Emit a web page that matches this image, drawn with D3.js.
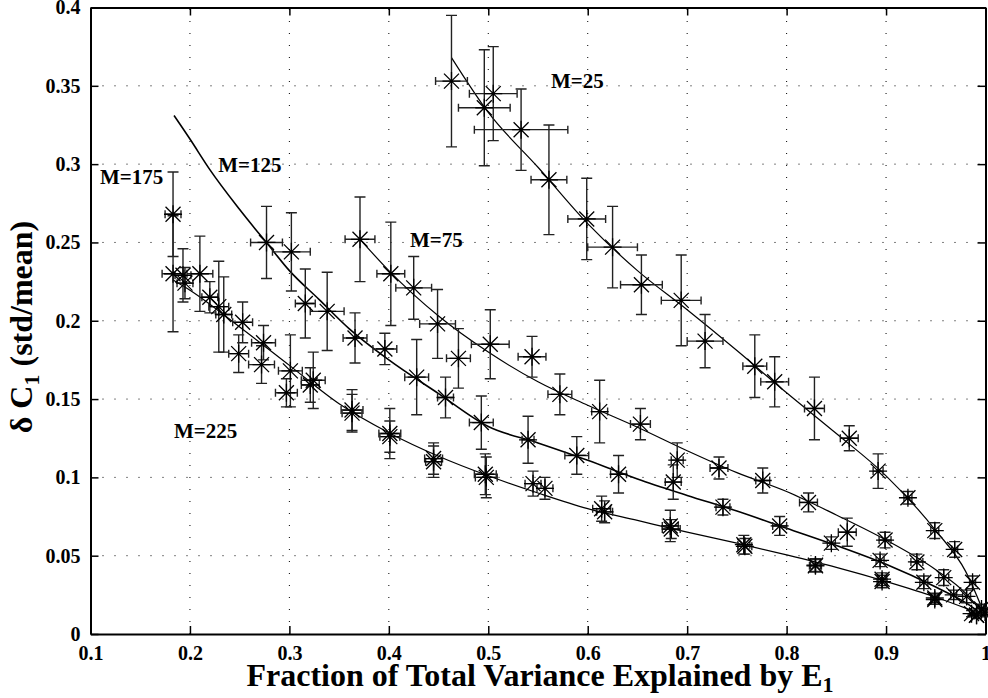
<!DOCTYPE html>
<html>
<head>
<meta charset="utf-8">
<script src="https://cdn.jsdelivr.net/npm/d3@7"></script>
<style>
  body { margin: 0; background: #fff; }
  text { font-family: "Liberation Serif", "Times New Roman", serif; font-weight: bold; }
</style>
</head>
<body>
<div id="chart"></div>
<script>
// axis ticks
const xTicks = [0.1, 0.2, 0.3, 0.4, 0.5, 0.6, 0.7, 0.8, 0.9, 1];
const yTicks = [0, 0.05, 0.1, 0.15, 0.2, 0.25, 0.3, 0.35, 0.4];

// M=25
const m25X  = [0.463,0.496,0.505,0.533,0.561,0.599,0.625,0.654,0.694,0.718,0.768,0.788,0.828,0.863,0.892,0.922,0.949,0.969,0.987,0.996];
const m25Y  = [0.353,0.336,0.345,0.322,0.290,0.265,0.247,0.223,0.213,0.187,0.171,0.161,0.144,0.125,0.104,0.087,0.066,0.054,0.033,0.016];
const m25Ex = [0.016,0.026,0.024,0.047,0.018,0.019,0.025,0.021,0.020,0.018,0.012,0.014,0.010,0.009,0.005,0.004,0.004,0.003,0.003,0.002];
const m25Ey = [0.042,0.037,0.030,0.026,0.035,0.026,0.026,0.019,0.029,0.017,0.020,0.016,0.020,0.008,0.011,0.004,0.005,0.005,0.004,0.003];

// M=75
const m75X  = [0.371,0.402,0.425,0.449,0.470,0.502,0.544,0.572,0.612,0.653,0.690,0.732,0.776,0.822,0.861,0.899,0.931,0.958,0.981,0.9995];
const m75Y  = [0.252,0.230,0.221,0.198,0.176,0.185,0.177,0.153,0.142,0.134,0.111,0.106,0.098,0.084,0.065,0.060,0.046,0.036,0.024,0.014];
const m75Ex = [0.015,0.014,0.018,0.018,0.012,0.019,0.014,0.012,0.008,0.010,0.006,0.009,0.007,0.009,0.009,0.006,0.006,0.005,0.004,0.002];
const m75Ey = [0.027,0.033,0.020,0.022,0.019,0.022,0.013,0.013,0.020,0.010,0.011,0.007,0.008,0.006,0.009,0.005,0.005,0.005,0.004,0.003];

// M=125
const m125X  = [0.277,0.302,0.316,0.338,0.366,0.396,0.428,0.457,0.493,0.540,0.589,0.631,0.686,0.736,0.793,0.845,0.894,0.938,0.968,0.991];
const m125Y  = [0.250,0.244,0.211,0.206,0.189,0.182,0.164,0.151,0.135,0.124,0.114,0.102,0.097,0.081,0.069,0.058,0.047,0.033,0.025,0.012];
const m125Ex = [0.016,0.019,0.010,0.017,0.012,0.012,0.012,0.008,0.012,0.006,0.012,0.008,0.008,0.007,0.007,0.004,0.004,0.004,0.003,0.002];
const m125Ey = [0.023,0.025,0.022,0.025,0.016,0.010,0.024,0.013,0.017,0.015,0.012,0.012,0.011,0.005,0.006,0.004,0.004,0.004,0.003,0.002];

// M=175
const m175X  = [0.183,0.193,0.210,0.229,0.253,0.274,0.301,0.324,0.363,0.401,0.445,0.497,0.545,0.614,0.683,0.757,0.829,0.896,0.949,0.986];
const m175Y  = [0.268,0.229,0.230,0.209,0.199,0.186,0.168,0.162,0.143,0.128,0.112,0.102,0.096,0.080,0.069,0.057,0.044,0.035,0.023,0.013];
const m175Ex = [0.008,0.008,0.013,0.010,0.010,0.012,0.012,0.012,0.011,0.011,0.009,0.011,0.008,0.009,0.008,0.006,0.005,0.004,0.004,0.002];
const m175Ey = [0.027,0.017,0.024,0.029,0.013,0.011,0.023,0.018,0.013,0.016,0.010,0.013,0.008,0.008,0.010,0.006,0.004,0.004,0.003,0.002];

// M=225
const m225X  = [0.183,0.195,0.220,0.234,0.249,0.272,0.297,0.321,0.363,0.401,0.445,0.498,0.557,0.617,0.684,0.758,0.829,0.896,0.949,0.991];
const m225Y  = [0.230,0.224,0.215,0.204,0.179,0.172,0.154,0.159,0.141,0.126,0.110,0.100,0.093,0.078,0.067,0.056,0.0435,0.0335,0.022,0.012];
const m225Ex = [0.011,0.008,0.008,0.008,0.010,0.013,0.011,0.009,0.010,0.010,0.008,0.011,0.008,0.008,0.009,0.007,0.006,0.005,0.004,0.002];
const m225Ey = [0.037,0.010,0.010,0.024,0.012,0.012,0.009,0.011,0.012,0.010,0.010,0.013,0.007,0.007,0.006,0.005,0.004,0.004,0.003,0.002];

// fitted curves
const fit25X  = [0.463,0.50,0.55,0.60,0.65,0.70,0.75,0.80,0.85,0.90,0.95,0.98,1.0];
const fit25Y  = [0.368,0.333,0.298,0.262,0.232,0.207,0.181,0.154,0.128,0.101,0.066,0.040,0.011];
const fit75X  = [0.371,0.40,0.45,0.50,0.55,0.60,0.65,0.70,0.75,0.80,0.85,0.90,0.95,0.98,1.0];
const fit75Y  = [0.252,0.232,0.203,0.180,0.161,0.146,0.132,0.117,0.103,0.091,0.076,0.060,0.041,0.026,0.011];
const fit125X = [0.184,0.20,0.22,0.25,0.28,0.30,0.33,0.36,0.40,0.45,0.50,0.55,0.60,0.65,0.70,0.75,0.80,0.85,0.90,0.95,0.98,1.0];
const fit125Y = [0.331,0.316,0.2965,0.271,0.2475,0.232,0.2135,0.195,0.175,0.1535,0.1325,0.122,0.111,0.099,0.0885,0.0785,0.0675,0.0565,0.0445,0.030,0.020,0.011];
const fit225X = [0.183,0.20,0.25,0.30,0.35,0.40,0.45,0.50,0.55,0.60,0.65,0.70,0.75,0.80,0.85,0.90,0.95,0.98,1.0];
const fit225Y = [0.226,0.2195,0.196,0.1715,0.147,0.1285,0.1135,0.101,0.090,0.080,0.0725,0.065,0.058,0.0505,0.0425,0.0335,0.0235,0.0165,0.0115];

// curve labels
const labelText = ["M=25", "M=75", "M=125", "M=175", "M=225"];
const labelX = [0.563, 0.4213, 0.2285, 0.1096, 0.184];
const labelY = [0.3483, 0.2474, 0.2947, 0.2874, 0.1252];

const width = 988, height = 698;

const svg = d3.select("#chart").append("svg")
	.attr("width", width)
	.attr("height", height);

const x = d3.scaleLinear().domain([0.1, 1]).range([90.5, 985.5]);
const y = d3.scaleLinear().domain([0, 0.4]).range([634, 7.5]);

// dotted grid
svg.append("g").selectAll("line")
	.data(xTicks.slice(1, -1))
	.enter().append("line")
	.attr("x1", d => x(d)).attr("x2", d => x(d))
	.attr("y1", y(0)).attr("y2", y(0.4))
	.attr("stroke", "#000").attr("stroke-width", 1)
	.attr("stroke-dasharray", "1,11");
svg.append("g").selectAll("line")
	.data(yTicks.slice(1, -1))
	.enter().append("line")
	.attr("y1", d => y(d)).attr("y2", d => y(d))
	.attr("x1", x(0.1)).attr("x2", x(1))
	.attr("stroke", "#000").attr("stroke-width", 1)
	.attr("stroke-dasharray", "1,11");

const fmt = d => String(+d.toFixed(2));

// axes with inward ticks
const gx = svg.append("g").attr("transform", `translate(0,${y(0)})`)
	.call(d3.axisBottom(x).tickValues(xTicks).tickFormat(fmt).tickSizeInner(-8).tickSizeOuter(0).tickPadding(12));
const gxTop = svg.append("g").attr("transform", `translate(0,${y(0.4)})`)
	.call(d3.axisTop(x).tickValues(xTicks).tickFormat("").tickSizeInner(-8).tickSizeOuter(0));
const gy = svg.append("g").attr("transform", `translate(${x(0.1)},0)`)
	.call(d3.axisLeft(y).tickValues(yTicks).tickFormat(fmt).tickSizeInner(-8).tickSizeOuter(0).tickPadding(10));
const gyRight = svg.append("g").attr("transform", `translate(${x(1)},0)`)
	.call(d3.axisRight(y).tickValues(yTicks).tickFormat("").tickSizeInner(-8).tickSizeOuter(0));

[gx, gxTop, gy, gyRight].forEach(g => {
	g.select(".domain").attr("stroke", "#000").attr("stroke-width", 2);
	g.selectAll(".tick line").attr("stroke", "#000").attr("stroke-width", 1.5);
});
[gx, gy].forEach(g => {
	g.selectAll(".tick text")
		.attr("font-size", 20)
		.attr("fill", "#000");
});

// fitted lines
const line = d3.line().x(d => x(d[0])).y(d => y(d[1])).curve(d3.curveMonotoneX);
const fits = [
	{xs: fit25X, ys: fit25Y, w: 1.2},
	{xs: fit75X, ys: fit75Y, w: 1.2},
	{xs: fit125X, ys: fit125Y, w: 1.6},
	{xs: fit225X, ys: fit225Y, w: 1.2}
];
svg.append("g").selectAll("path")
	.data(fits)
	.enter().append("path")
	.attr("d", f => line(f.xs.map((v, i) => [v, f.ys[i]])))
	.attr("fill", "none")
	.attr("stroke", "#000")
	.attr("stroke-width", f => f.w);

// points with error bars
const series = [
	[m25X, m25Y, m25Ex, m25Ey],
	[m75X, m75Y, m75Ex, m75Ey],
	[m125X, m125Y, m125Ex, m125Ey],
	[m175X, m175Y, m175Ex, m175Ey],
	[m225X, m225Y, m225Ex, m225Ey]
];
const points = [];
series.forEach(([xs, ys, exs, eys]) => {
	xs.forEach((v, i) => points.push({x: v, y: ys[i], ex: exs[i], ey: eys[i]}));
});

const capY = 5.5, capX = 4;
const eb = svg.append("g").attr("stroke", "#222").attr("stroke-width", 1.4).attr("fill", "none");
eb.selectAll("path")
	.data(points)
	.enter().append("path")
	.attr("d", d => {
		const cx = x(d.x), cy = y(d.y);
		const y1 = y(d.y + d.ey), y2 = y(d.y - d.ey);
		const x1 = x(d.x - d.ex), x2 = x(d.x + d.ex);
		return `M${cx},${y1}V${y2}` +
			`M${cx - capY},${y1}H${cx + capY}M${cx - capY},${y2}H${cx + capY}` +
			`M${x1},${cy}H${x2}` +
			`M${x1},${cy - capX}V${cy + capX}M${x2},${cy - capX}V${cy + capX}`;
	});

const star = "M-9,0H9M0,-9V9M-7.5,-7.5L7.5,7.5M-7.5,7.5L7.5,-7.5";
svg.append("g").selectAll("path")
	.data(points)
	.enter().append("path")
	.attr("transform", d => `translate(${x(d.x)},${y(d.y)})`)
	.attr("d", star)
	.attr("stroke", "#000")
	.attr("stroke-width", 1.3)
	.attr("fill", "none");

// curve labels
svg.append("g").selectAll("text")
	.data(labelText)
	.enter().append("text")
	.attr("x", (d, i) => x(labelX[i]))
	.attr("y", (d, i) => y(labelY[i]))
	.attr("font-size", 21)
	.attr("fill", "#000")
	.text(d => d);

// axis titles
const xl = svg.append("text")
	.attr("x", 540).attr("y", 686)
	.attr("text-anchor", "middle")
	.attr("font-size", 32)
	.attr("fill", "#000");
xl.append("tspan").text("Fraction of Total Variance Explained by E");
xl.append("tspan").attr("font-size", 22).attr("dy", 6).text("1");

const yl = svg.append("text")
	.attr("transform", "translate(32,327) rotate(-90)")
	.attr("text-anchor", "middle")
	.attr("font-size", 32)
	.attr("fill", "#000");
yl.append("tspan").text("δ C");
yl.append("tspan").attr("font-size", 22).attr("dy", 7).text("1");
yl.append("tspan").attr("dy", -7).text(" (std/mean)");
</script>
</body>
</html>
